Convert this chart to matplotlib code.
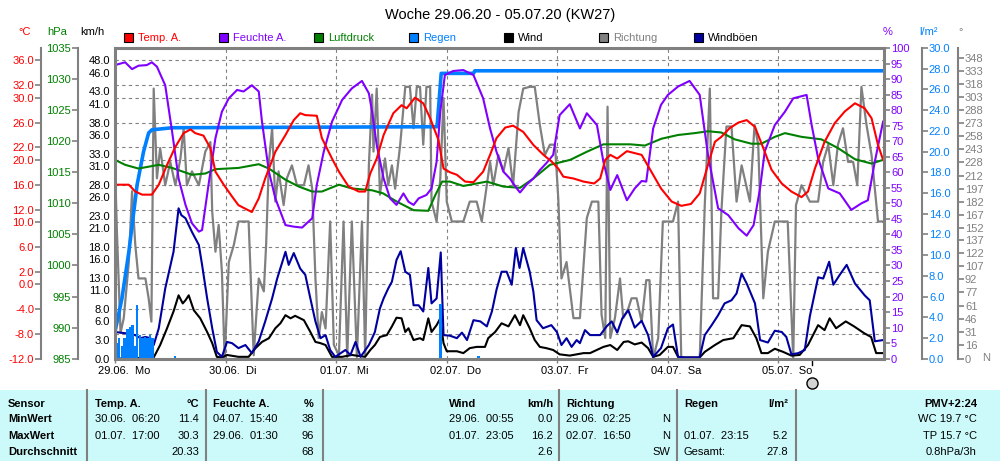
import numpy as np
import matplotlib
matplotlib.use("Agg")
import matplotlib.pyplot as plt
from matplotlib.patches import Rectangle
from matplotlib.transforms import ScaledTranslation, blended_transform_factory

plt.rcParams['font.family'] = ['Liberation Sans', 'DejaVu Sans']

RED = '#ff0000'
PURPLE = '#8000ff'
GREEN = '#008000'
BLUE = '#0080ff'
GRAY = '#808080'
NAVY = '#0000a0'
CYAN = '#ccfafa'

# x values are hours since 29.06. 00:00
day_labels = ['29.06.  Mo', '30.06.  Di', '01.07.  Mi', '02.07.  Do',
              '03.07.  Fr', '04.07.  Sa', '05.07.  So']

temp_h = [0, 3, 4.4, 5.9, 8, 9.5, 11.3, 13.1, 14.9, 16.4,
          17.4, 19.2, 20.7, 21.8, 23.6, 25.4, 26.8, 29.7, 31.2, 32.6,
          34.8, 37, 38.8, 40.2, 41.3, 43.8, 44.9, 47.1, 48.6, 50.7,
          52.9, 54.3, 55.4, 56.8, 58.3, 60.4, 62.2, 63.3, 65.1, 66.9,
          68.4, 70.2, 71.3, 72.7, 74.2, 76, 77.8, 79.9, 81.4, 82.8,
          84.7, 86.4, 88.6, 90.8, 93, 94.8, 96.2, 97.3, 99.5, 101.7,
          104, 105.3, 106.4, 107.5, 109, 111.1, 114.3, 116.4, 118.5, 120.8,
          122.9, 125, 126.9, 128.7, 130.2, 131.6, 133.4, 135.3, 137.1, 138.9,
          140.7, 142.5, 144.7, 146.8, 149, 150.4, 151.9, 154, 156.2, 158.4,
          160.6, 162.7, 164.2, 165.6, 166.7]
temp_c = [16.0, 16.0, 14.9, 14.4, 14.4, 16.0, 19.2, 22.1, 24.3, 24.9,
          24.3, 23.9, 21.9, 18.1, 16.0, 14.1, 12.7, 11.6, 13.8, 17.0,
          21.3, 24.0, 26.4, 27.5, 27.2, 27.1, 23.5, 20.2, 18.1, 15.7,
          14.9, 14.9, 17.8, 20.2, 24.0, 27.5, 28.8, 28.3, 30.0, 29.1,
          26.7, 23.2, 18.6, 18.0, 17.6, 16.5, 16.4, 18.1, 20.8, 23.5,
          25.2, 25.5, 24.5, 22.4, 20.8, 19.7, 18.6, 17.3, 17.0, 16.5,
          16.2, 17.0, 20.0, 20.8, 20.2, 21.4, 20.8, 18.1, 15.4, 13.3,
          12.6, 12.9, 14.6, 19.2, 22.9, 23.7, 25.1, 26.0, 26.4, 25.3,
          21.9, 18.4, 16.2, 14.9, 14.0, 14.9, 18.6, 22.9, 25.9, 27.8,
          29.1, 28.3, 26.7, 22.4, 20.0]

hum_h = [0, 2.2, 3.7, 5.1, 6.9, 8, 9.1, 10.9, 12.4, 13.8,
         15.3, 16.7, 18.2, 18.9, 20.3, 21.8, 23.2, 24.7, 26.5, 27.9,
         29.7, 31.2, 31.9, 33.4, 34.8, 37, 38.8, 40.6, 42.8, 43.8,
         45.3, 47.1, 49.3, 51.4, 53.6, 55.1, 55.8, 56.8, 58.3, 59.7,
         61.1, 62.6, 63.7, 64.8, 65.9, 67.6, 68.7, 69.8, 70.6, 71.6,
         73.4, 75.6, 77.8, 79.9, 81.4, 82.8, 84.3, 85.7, 87.2, 87.9,
         89.3, 90.8, 92.2, 93.6, 95.1, 96.5, 98.7, 100.9, 102.4, 104.6,
         106, 107.5, 109, 111.1, 112.8, 114.3, 115.3, 116.8, 118.5, 120,
         122.2, 124.7, 126.9, 128.7, 130.9, 133.1, 135.3, 137.1, 138.6, 140,
         141, 143.2, 145.4, 147.2, 150.1, 151.2, 152.6, 154.8, 157.3, 159.8,
         162, 163.4, 164.9, 166.7]
hum_pct = [94.5, 95.4, 93.2, 94.3, 94.5, 95.4, 94, 88, 73, 58,
           49.5, 43.6, 40.9, 41.4, 56, 71, 79.5, 83.8, 86.5, 86,
           88, 86, 76.3, 60.2, 51.6, 43, 42.5, 42.2, 45.2, 56,
           66.6, 76.3, 83.3, 87, 89.4, 85.4, 79.5, 68.8, 58, 51.6,
           49.5, 53.2, 50.5, 49.5, 51.6, 52.7, 54.8, 63.4, 79.5, 91.3,
           92.6, 92.9, 91.3, 83.8, 74.1, 66.6, 60.2, 58, 54.8, 53.5,
           56, 58, 60.7, 62.9, 65.6, 78.4, 81.9, 74.1, 79, 75.2,
           63.4, 54.3, 59.1, 51, 54.8, 57.2, 57, 74.1, 81.7, 84.9,
           87.6, 89.4, 84.9, 65.6, 48.4, 46.2, 42, 39.6, 43, 54.8,
           66.6, 75.2, 79.5, 83.8, 84.9, 75.2, 64.5, 54.8, 53.2, 47.9,
           50, 51, 63.4, 76.3]

pres_h = [0, 2.2, 5.1, 9.5, 12.4, 16.7, 19.6, 21.8, 26.8, 31.2,
          33.4, 37, 39.9, 42.8, 44.9, 48.6, 51.4, 55.8, 58.2, 61.1,
          64.8, 68, 69.5, 71, 72.7, 75.6, 80.7, 84.3, 87.9, 90.8,
          94.4, 98.8, 102.4, 106, 111.8, 115, 118.6, 122.2, 125.8, 128.7,
          131.6, 134.5, 138.1, 140.3, 143.2, 145.4, 149, 153.3, 156.9, 160.6,
          164.2, 166.7]
pres_hpa = [1017, 1016.2, 1015.6, 1016.2, 1015.7, 1014.6, 1014.8, 1015.5, 1015.7, 1016.3,
            1015.6, 1013.8, 1012.7, 1011.9, 1011.9, 1013, 1012.4, 1012.1, 1011.6, 1010.3,
            1008.9, 1008.8, 1011.3, 1013.5, 1013.5, 1012.8, 1013.5, 1012.7, 1012.5, 1014,
            1016.2, 1017, 1018.3, 1019.5, 1019.5, 1019.3, 1020.4, 1021, 1021.3, 1021.6,
            1021.4, 1020.3, 1019.6, 1019.6, 1020.7, 1021.3, 1020.7, 1020.3, 1018.9, 1017.1,
            1016.4, 1017]

rain_sum_h = [0, 1.5, 3, 4.8, 6.2, 7.3, 8, 12.4, 69.9, 70.8, 77.8, 78.1, 166.7]
rain_sum_l = [2.6, 5.8, 10.3, 16.8, 20, 21.8, 22.1, 22.3, 22.4, 27.55, 27.55, 27.8, 27.8]

rain_bar_h = [0.4, 0.9, 1.5, 2.1, 2.7, 3.3, 3.8, 4.3, 4.8, 5.4,
              6.0, 6.5, 7.0, 7.6, 8.1, 13.0, 70.65, 78.9]
rain_bar_l = [1.5, 2.0, 1.2, 2.0, 2.9, 3.1, 3.3, 1.2, 5.2, 2.3,
              2.0, 2.1, 2.0, 2.3, 2.0, 0.3, 5.3, 0.3]

wind_h = [0, 8.4, 9.8, 11.3, 12.7, 13.8, 14.7, 15.3, 16, 17.1,
          18.5, 20, 21.1, 22.1, 23.2, 24.3, 26.8, 29, 30.5, 31.9,
          33.4, 34.8, 35.9, 37, 38.1, 39.1, 41, 42.4, 43.5, 44.6,
          45.7, 47.1, 49.3, 51.4, 54.3, 55.4, 56.4, 57.5, 59, 60.1,
          61.1, 62.2, 63, 63.7, 64.8, 66.2, 66.9, 68, 68.7, 69.8,
          70.6, 71.3, 72, 74.2, 75.6, 77, 78.5, 80.3, 81, 82.5,
          83.9, 85.4, 86.8, 87.9, 88.6, 90, 91.1, 92.2, 93.6, 95.1,
          96.5, 98.7, 101.7, 103.1, 106, 107.5, 109, 110.4, 111.4, 112.8,
          114.3, 115.7, 116.8, 118.2, 120, 121.1, 122.2, 123.3, 126.9, 128,
          130.2, 132, 134.2, 136, 137.8, 139.2, 140.3, 141.7, 143.2, 145,
          146.8, 148.6, 150.4, 152.6, 154, 155.1, 156.5, 158.6, 160.4, 162.6,
          164.1, 165.2, 166.6]
wind_kmh = [0, 0.2, 2.2, 4.9, 7.6, 10.2, 8.9, 9.4, 10.2, 7.8,
            6.5, 4.3, 2.5, 0.3, 0.2, 0.6, 0.3, 0.3, 1.7, 2.7,
            3.3, 4.9, 5.7, 7.0, 6.5, 6.9, 6.2, 4.3, 2.7, 2.5,
            2.2, 0.3, 0.3, 0.6, 0.3, 1.4, 2.2, 3.5, 3.8, 5.2,
            6.6, 6.5, 4.3, 4.9, 3.0, 3.3, 3.0, 6.5, 4.3, 5.4,
            6.5, 2.5, 1.2, 1.2, 0.9, 1.7, 1.9, 1.9, 3.3, 4.3,
            5.7, 5.2, 7.0, 5.4, 7.0, 4.9, 3.0, 1.9, 1.7, 1.4,
            0.7, 0.5, 0.9, 0.9, 1.9, 2.2, 1.4, 2.7, 2.8, 2.3,
            2.6, 1.7, 0.3, 0.6, 1.9, 1.9, 0.3, 0.2, 0.2, 1.1,
            2.2, 3.0, 3.3, 5.4, 5.2, 3.3, 0.9, 0.9, 1.6, 1.1,
            0.5, 0.6, 2.2, 5.4, 4.6, 6.5, 4.9, 6.0, 5.2, 4.1,
            3.5, 0.9, 0.9]

gust_h = [0, 2.2, 4.4, 5.5, 6.6, 7.7, 8.4, 9.5, 10.9, 12.7,
          13.8, 14.4, 15.3, 16.7, 18.2, 18.9, 20, 21.1, 22.1, 23.2,
          24.3, 25.4, 26.8, 28.3, 29.7, 31.2, 32.6, 34.1, 35.2, 37,
          37.7, 38.8, 40.2, 41.3, 42.4, 43.5, 44.6, 45.7, 46.7, 47.8,
          50, 51.1, 52.2, 53.3, 55.1, 55.8, 56.4, 57.5, 58.3, 59.3,
          60.1, 61.1, 62, 63, 64, 64.8, 65.9, 66.9, 68, 68.7,
          69.8, 70.7, 71.3, 72.7, 74.2, 75.3, 76.4, 77.8, 79.3, 80.7,
          81.8, 82.8, 83.9, 85, 86.1, 87, 87.8, 88.6, 90, 90.8,
          91.5, 92.9, 94.7, 95.9, 96.9, 98, 99.1, 100.2, 100.9, 102,
          103.1, 105.3, 106.7, 107.8, 109, 110.1, 111.4, 112.8, 114.3, 115.7,
          116.8, 118.5, 120, 121.1, 122.2, 123.7, 126.9, 128, 129.5, 130.9,
          132.3, 133.8, 134.9, 136, 137.1, 138.9, 140, 141.7, 143.2, 144.7,
          145.7, 146.8, 148.3, 149.7, 150.8, 152.6, 153.7, 155, 155.9, 157.3,
          158.8, 160.6, 162.7, 163.8, 164.9, 166.7]
gust_kmh = [4.3, 4.1, 3.8, 3.3, 3.5, 3.3, 2.2, 4.9, 11.3, 17.2,
            24.2, 23.1, 22.6, 20.4, 18.3, 15.1, 9.7, 4.9, 1.1, 0.3,
            2.7, 2.5, 1.7, 2.2, 0.9, 2.8, 6.0, 9.7, 12.9, 17.2,
            15.1, 17.0, 14.5, 13.5, 9.7, 6.0, 3.3, 3.8, 1.4, 0.3,
            1.4, 0.6, 2.7, 0.3, 2.2, 3.3, 4.3, 8.1, 9.7, 11.3,
            12.4, 15.9, 17.3, 14.0, 13.5, 8.6, 8.6, 7.6, 14.6, 8.9,
            9.7, 17.1, 3.8, 3.7, 3.3, 4.2, 3.0, 6.2, 6.0, 5.2,
            7.6, 11.1, 14.0, 14.0, 11.9, 17.8, 14.6, 17.8, 14.0, 10.8,
            6.2, 4.9, 5.4, 4.3, 2.2, 3.3, 1.9, 3.0, 2.5, 4.6,
            3.8, 3.8, 5.2, 6.0, 4.2, 6.5, 7.8, 5.0, 6.1, 3.8,
            0.3, 1.7, 4.9, 5.5, 0.3, 0.2, 0.2, 3.8, 5.4, 7.0,
            8.9, 9.4, 10.5, 13.7, 12.1, 8.9, 3.0, 2.6, 4.5, 4.3,
            3.5, 0.7, 0.9, 1.4, 6.8, 13.1, 12.9, 15.6, 11.9, 13.5,
            15.1, 12.1, 10.2, 9.4, 2.8, 3.0]

dir_h = [0, 0.4, 1.2, 1.9, 3, 3.7, 4.4, 5.1, 6.6, 7.3,
         7.9, 8.4, 9.1, 9.8, 10.9, 12, 13.1, 14.2, 14.9, 15.6,
         16.7, 18.2, 19.6, 20.7, 21.1, 21.8, 22.5, 23.2, 23.8, 24.7,
         25.8, 26.8, 29, 30.1, 31.2, 32.3, 32.8, 33.4, 34.1, 34.8,
         35.5, 36.6, 37.3, 38.4, 39.5, 41, 42, 42.8, 43.5, 44.2,
         44.9, 45.7, 46.7, 47.5, 48.6, 49.6, 50.4, 51.4, 52.5, 53.6,
         54.3, 55.1, 55.8, 56.1, 56.8, 57.5, 58.6, 59.3, 60.1, 60.8,
         61.9, 63, 64, 64.8, 65.5, 66.2, 66.9, 67.6, 68.4, 68.7,
         69.8, 70.6, 71.3, 72, 73.1, 75.6, 77, 78.5, 79.6, 80.7,
         81.4, 82.1, 83.2, 84.3, 85.4, 86.4, 87.6, 88.6, 90, 91.1,
         92.2, 93.3, 94.4, 95.5, 96.2, 96.9, 98, 99.5, 100.9, 102.4,
         103.5, 104.9, 105.6, 106.4, 106.9, 107.5, 108.5, 109.6, 110.3, 111.4,
         112.1, 113.2, 114.3, 115.3, 116, 116.8, 117.9, 118.9, 121.1, 122.2,
         122.9, 126.9, 128, 129.1, 129.8, 130.9, 131.6, 132.7, 133.8, 134.9,
         136, 137.8, 138.8, 139.6, 140.7, 141.7, 143.2, 146, 147.2, 147.8,
         149, 150.8, 152.6, 153.7, 154.8, 155.9, 156.9, 158, 159.1, 160.2,
         161.1, 162, 163.1, 164.2, 165.6, 166.7]
dir_deg = [224, 150, 30, 47, 112, 194, 132, 93, 93, 70,
           43, 313, 209, 244, 201, 228, 201, 232, 267, 201,
           217, 201, 240, 251, 170, 124, 155, 101, 0, 112,
           132, 159, 159, 4, 93, 78, 132, 228, 267, 182,
           217, 178, 209, 224, 201, 201, 224, 197, 93, 24,
           54, 35, 159, 16, 4, 159, 2, 159, 2, 159,
           4, 224, 306, 240, 313, 190, 232, 201, 224, 197,
           248, 315, 315, 267, 315, 315, 248, 315, 315, 182,
           159, 209, 302, 182, 159, 159, 182, 182, 159, 201,
           228, 201, 236, 217, 244, 201, 286, 313, 315, 315,
           271, 236, 248, 248, 186, 93, 112, 47, 47, 163,
           182, 182, 51, 24, 292, 24, 47, 93, 47, 58,
           70, 70, 43, 91, 91, 0, 24, 159, 159, 182,
           0, 0, 178, 313, 70, 70, 170, 269, 269, 182,
           224, 182, 271, 248, 70, 124, 159, 159, 0, 178,
           201, 182, 182, 228, 248, 201, 248, 267, 228, 228,
           201, 315, 271, 236, 159, 159]

now_h = 151.2

temp_ticks = [-12, -8, -4, 0, 2, 6, 10, 12, 16, 20, 22, 26, 30, 32, 36]
pres_ticks = list(range(985, 1036, 5))
wind_ticks = [0, 3, 6, 8, 11, 13, 16, 18, 21, 23, 26, 28, 31, 33, 36, 38, 41, 43, 46, 48]
hum_ticks = list(range(0, 101, 5))
rain_ticks = list(range(0, 31, 2))
dir_ticks = [0, 16, 31, 46, 61, 77, 92, 107, 122, 137, 152, 167, 182, 197, 212,
             228, 243, 258, 273, 288, 303, 318, 333, 348]

legend_names = ['Temp. A.', 'Feuchte A.', 'Luftdruck', 'Regen', 'Wind', 'Richtung', 'Windböen']
legend_fill = [RED, PURPLE, GREEN, BLUE, 'black', GRAY, NAVY]
legend_text = [RED, PURPLE, GREEN, BLUE, 'black', GRAY, 'black']

W, H = 1000, 461


def fx(px):
    return px / W


def fy(py):
    return 1 - py / H


fig = plt.figure(figsize=(10, 4.61), dpi=100)
ax = fig.add_axes([fx(115), fy(358.7), fx(884 - 115), (358.7 - 48) / H])

ax_p = ax.twinx()
ax_w = ax.twinx()
ax_h = ax.twinx()
ax_r = ax.twinx()
ax_d = ax.twinx()


def side_axis(a, side, pos, color, ticks, fmt, length, pad, lw=1.5):
    for s in a.spines.values():
        s.set_visible(False)
    sp = a.spines[side]
    sp.set_visible(True)
    sp.set_position(('axes', pos))
    sp.set_color(GRAY)
    sp.set_linewidth(lw)
    a.yaxis.set_ticks_position(side)
    a.set_yticks(ticks)
    a.set_yticklabels([fmt % t for t in ticks])
    a.tick_params(axis='y', which='both', colors=GRAY, labelcolor=color,
                  length=length, width=1.2, pad=pad, labelsize=8)


side_axis(ax, 'left', -0.0962, RED, temp_ticks, '%.1f', 4, 1)
ax.spines['top'].set_visible(True)
ax.spines['bottom'].set_visible(True)
for s in ('top', 'bottom'):
    ax.spines[s].set_color(GRAY)
    ax.spines[s].set_linewidth(2.2)
side_axis(ax_p, 'left', -0.0481, GREEN, pres_ticks, '%d', 4, 1)
side_axis(ax_w, 'left', 0, 'black', wind_ticks, '%.1f', 0, 3.5, lw=2.2)
side_axis(ax_h, 'right', 1.0, PURPLE, hum_ticks, '%d', 4, 1, lw=2.2)
side_axis(ax_r, 'right', 1.0494, BLUE, rain_ticks, '%.1f', 4, 1)
side_axis(ax_d, 'right', 1.0962, GRAY, dir_ticks, '%d', 4, 1)

ax.set_xlim(0, 166.9)
ax.set_ylim(-12, 38)
ax_p.set_ylim(985, 1035)
ax_w.set_ylim(0, 50)
ax_h.set_ylim(0, 100)
ax_r.set_ylim(0, 30)
ax_d.set_ylim(0, 360)

ax.set_xticks(np.arange(0, 145, 24))
ax.set_xticklabels(day_labels, ha='left')
ax.tick_params(axis='x', colors=GRAY, labelcolor='black', length=3, width=1, pad=2, labelsize=8)
shift = ScaledTranslation(-0.165, 0, fig.dpi_scale_trans)
for lab in ax.get_xticklabels():
    lab.set_transform(lab.get_transform() + shift)

ax.grid(True, color=GRAY, linestyle=(0, (3, 3)), linewidth=0.8)
ax.set_axisbelow(True)

# series, drawn in one axes so the stacking order can be chosen
ax.plot(dir_h, dir_deg, color=GRAY, lw=1.6, transform=ax_d.transData, zorder=2.0)
ax.plot(wind_h, wind_kmh, color='black', lw=1.5, transform=ax_w.transData, zorder=2.1)
ax.plot(gust_h, gust_kmh, color=NAVY, lw=1.5, transform=ax_w.transData, zorder=2.2)
ax.bar(rain_bar_h, rain_bar_l, width=0.56, color=BLUE, linewidth=0,
       transform=ax_r.transData, zorder=2.3)
ax.plot(rain_sum_h, rain_sum_l, color=BLUE, lw=2.6, transform=ax_r.transData, zorder=2.4)
ax.plot(pres_h, pres_hpa, color=GREEN, lw=1.5, transform=ax_p.transData, zorder=2.5)
ax.plot(hum_h, hum_pct, color=PURPLE, lw=1.5, transform=ax_h.transData, zorder=2.6)
ax.plot(temp_h, temp_c, color=RED, lw=1.5, zorder=2.7)

# marker for the current time below the axis
trans = blended_transform_factory(ax.transData, ax.transAxes)
ax.plot([now_h, now_h], [0, -0.02], color='black', lw=1, transform=trans, clip_on=False)
ax.plot([now_h], [-0.079], marker='o', ms=8, mfc='#d4d4d4', mec='black', mew=1,
        transform=trans, clip_on=False)

# title, unit labels, legend
fig.text(0.5, fy(15), 'Woche 29.06.20 - 05.07.20 (KW27)', ha='center', va='center', fontsize=10.5)
units = [(25, '°C', RED), (57, 'hPa', GREEN), (92, 'km/h', 'black'),
         (888, '%', PURPLE), (928, 'l/m²', BLUE), (961, '°', GRAY)]
for px, txt, col in units:
    fig.text(fx(px), fy(32), txt, ha='center', va='center', fontsize=8, color=col)
fig.text(fx(986), fy(358), 'N', ha='center', va='center', fontsize=8, color=GRAY)

for i, (name, fc, tc) in enumerate(zip(legend_names, legend_fill, legend_text)):
    x0 = 124 + 95 * i
    fig.add_artist(Rectangle((fx(x0), fy(42.5)), 9 / W, 9 / H, facecolor=fc,
                             edgecolor='black', lw=0.8, transform=fig.transFigure))
    fig.text(fx(x0 + 14), fy(38), name, color=tc, fontsize=8, va='center')

# statistics table
fig.add_artist(Rectangle((0, 0), 1, 71 / H, facecolor=CYAN, edgecolor='none',
                         transform=fig.transFigure, zorder=0))
for px in [87, 205.5, 322.5, 559, 677, 795.5]:
    fig.add_artist(plt.Line2D([fx(px), fx(px)], [0, 71 / H], color=GRAY, lw=1.5,
                              transform=fig.transFigure))

row_y = [404, 419, 435.5, 451.5]
row_names = ['Sensor', 'MinWert', 'MaxWert', 'Durchschnitt']
cols = [
    # left x, right x, header left, header right, rows of (left, right)
    (95, 199, 'Temp. A.', '°C', [('30.06.  06:20', '11.4'), ('01.07.  17:00', '30.3'), ('', '20.33')]),
    (213, 314, 'Feuchte A.', '%', [('04.07.  15:40', '38'), ('29.06.  01:30', '96'), ('', '68')]),
    (449, 553, 'Wind', 'km/h', [('29.06.  00:55', '0.0'), ('01.07.  23:05', '16.2'), ('', '2.6')]),
    (566, 670, 'Richtung', '', [('29.06.  02:25', 'N'), ('02.07.  16:50', 'N'), ('', 'SW')]),
    (684, 788, 'Regen', 'l/m²', [('', ''), ('01.07.  23:15', '5.2'), ('Gesamt:', '27.8')]),
]
for i, name in enumerate(row_names):
    fig.text(fx(8), fy(row_y[i]), name, fontsize=8, fontweight='bold', va='center')
for xl, xr, head, unit, rows in cols:
    fig.text(fx(xl), fy(row_y[0]), head, fontsize=8, fontweight='bold', va='center')
    fig.text(fx(xr), fy(row_y[0]), unit, fontsize=8, fontweight='bold', va='center', ha='right')
    for j, (lt, rt) in enumerate(rows):
        fig.text(fx(xl), fy(row_y[j + 1]), lt, fontsize=8, va='center')
        fig.text(fx(xr), fy(row_y[j + 1]), rt, fontsize=8, va='center', ha='right')
extra = ['PMV+2:24', 'WC 19.7 °C', 'TP 15.7 °C', '0.8hPa/3h']
for j, txt in enumerate(extra):
    fig.text(fx(977), fy(row_y[j]), txt, fontsize=8, va='center', ha='right',
             fontweight='bold' if j == 0 else 'normal')

fig.savefig('out.png', dpi=100)
